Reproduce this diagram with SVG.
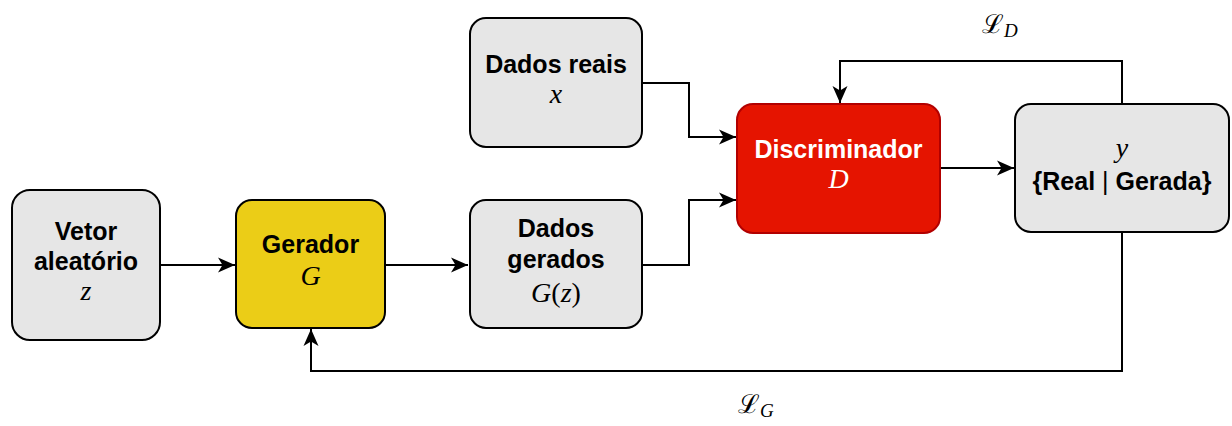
<svg xmlns="http://www.w3.org/2000/svg" width="1232" height="426" viewBox="0 0 1232 426">
  <style>
    .box { fill: #e6e6e6; stroke: #000; stroke-width: 2; }
    .gen { fill: #ebcd17; stroke: #000; stroke-width: 2; }
    .disc { fill: #e51400; stroke: #b20000; stroke-width: 2; }
    .lbl { font-family: "Liberation Sans", Arial, sans-serif; font-weight: bold; font-size: 25px; text-anchor: middle; fill: #000; }
    .math { font-family: "Liberation Serif", "DejaVu Serif", serif; font-style: italic; font-size: 28px; text-anchor: middle; fill: #000; }
    .up { font-style: normal; }
    .white { fill: #fff; }
    .wire { fill: none; stroke: #000; stroke-width: 2; }
    .loss { font-family: "DejaVu Serif", "Liberation Serif", serif; font-size: 26px; fill: #000; }
    .sub { font-family: "Liberation Serif", "DejaVu Serif", serif; font-style: italic; font-size: 19px; fill: #000; }
  </style>
  <defs>
    <marker id="arrow" markerUnits="userSpaceOnUse" markerWidth="18" markerHeight="16" refX="17" refY="8" orient="auto">
      <path d="M0,0.5 L17,8 L0,15.5 L4.5,8 Z" fill="#000"/>
    </marker>
  </defs>

  <rect width="1232" height="426" fill="#fff"/>

  <!-- connectors -->
  <g id="connectors">
    <path class="wire" d="M160,265 H235" marker-end="url(#arrow)"/>
    <path class="wire" d="M385,265 H468" marker-end="url(#arrow)"/>
    <path class="wire" d="M642,83 H689 V137 H736" marker-end="url(#arrow)"/>
    <path class="wire" d="M642,265 H689 V200 H736" marker-end="url(#arrow)"/>
    <path class="wire" d="M940,168 H1014" marker-end="url(#arrow)"/>
    <path class="wire" d="M1122,104 V61 H840 V103" marker-end="url(#arrow)"/>
    <path class="wire" d="M1122,232 V371 H311 V329" marker-end="url(#arrow)"/>
    <text x="982" y="33" class="loss">ℒ<tspan class="sub" dy="4">D</tspan></text>
    <text x="738" y="413" class="loss">ℒ<tspan class="sub" dy="4">G</tspan></text>
  </g>

  <!-- random vector z -->
  <g id="vetor">
    <rect class="box" x="12" y="190" width="148" height="150" rx="18"/>
    <text class="lbl" x="86" y="240">Vetor</text>
    <text class="lbl" x="86" y="270">aleatório</text>
    <text class="math" x="86" y="300">z</text>
  </g>

  <!-- generator G -->
  <g id="gerador">
    <rect class="gen" x="236" y="200" width="149" height="128" rx="16"/>
    <text class="lbl" x="310.5" y="253">Gerador</text>
    <text class="math" x="310.5" y="285">G</text>
  </g>

  <!-- real data x -->
  <g id="dados-reais">
    <rect class="box" x="470" y="18" width="172" height="129" rx="16"/>
    <text class="lbl" x="556" y="73">Dados reais</text>
    <text class="math" x="556" y="103">x</text>
  </g>

  <!-- generated data G(z) -->
  <g id="dados-gerados">
    <rect class="box" x="470" y="200" width="172" height="128" rx="16"/>
    <text class="lbl" x="556" y="237">Dados</text>
    <text class="lbl" x="556" y="268">gerados</text>
    <text class="math" x="556" y="302">G<tspan class="up">(</tspan>z<tspan class="up">)</tspan></text>
  </g>

  <!-- discriminator D -->
  <g id="discriminador">
    <rect class="disc" x="737" y="104" width="203" height="129" rx="16"/>
    <text class="lbl white" x="838.5" y="158">Discriminador</text>
    <text class="math white" x="838.5" y="188">D</text>
  </g>

  <!-- output y -->
  <g id="saida">
    <rect class="box" x="1015" y="104" width="214" height="128" rx="16"/>
    <text class="math" x="1122" y="157">y</text>
    <text class="lbl" x="1122" y="190">{Real <tspan font-weight="normal">|</tspan> Gerada}</text>
  </g>
</svg>
